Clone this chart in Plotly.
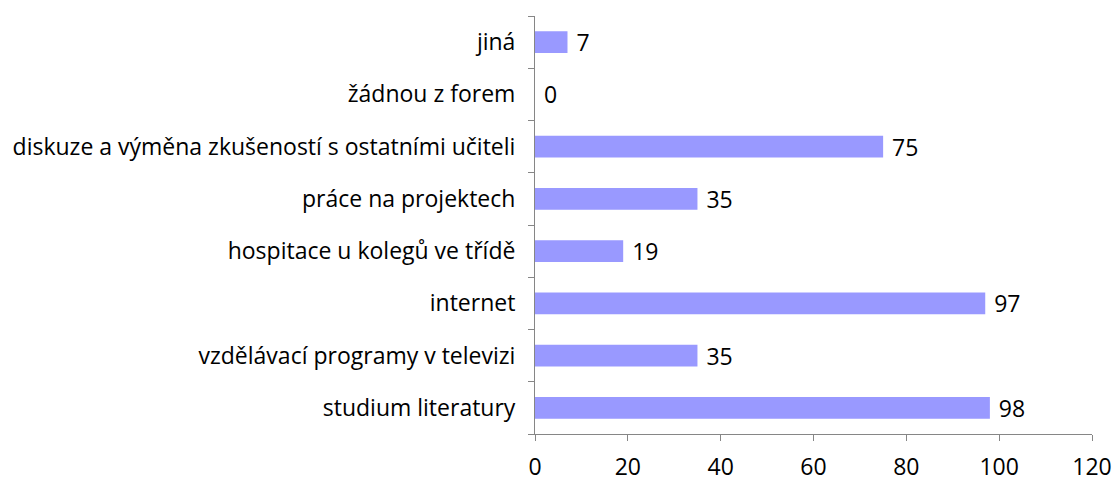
import plotly.graph_objects as go

categories = ["studium literatury", "vzdělávací programy v televizi", "internet",
              "hospitace u kolegů ve třídě", "práce na projektech",
              "diskuze a výměna zkušeností s ostatními učiteli", "žádnou z forem", "jiná"]
values = [98, 35, 97, 19, 35, 75, 0, 7]
x_ticks = [0, 20, 40, 60, 80, 100, 120]

FONT = "'Open Sans', sans-serif"

fig = go.Figure(go.Bar(
    y=categories, x=values, orientation="h",
    marker=dict(color="#9999FF", line=dict(width=0)),
    text=[f" {v}" for v in values], textposition="outside",
    textfont=dict(size=23, color="#000000", family=FONT),
    constraintext="none",
    cliponaxis=False, width=0.415,
))

fig.update_layout(
    width=1115, height=487,
    margin=dict(l=535, r=23, t=16, b=53, pad=0),
    paper_bgcolor="white", plot_bgcolor="white",
    showlegend=False,
    font=dict(family=FONT, size=23, color="#000000"),
    xaxis=dict(range=[0, 120], tickvals=x_ticks, showgrid=False, zeroline=False,
               showline=True, linecolor="#868686", linewidth=1,
               ticks="outside", ticklen=6, tickcolor="#868686", automargin=False,
               tickfont=dict(size=23, family=FONT), ticklabelstandoff=6),
    yaxis=dict(categoryorder="array", categoryarray=categories, automargin=False,
               showgrid=False, zeroline=False, showline=True, linecolor="#868686",
               linewidth=1, ticks="outside", ticklen=6, tickcolor="#868686",
               tickson="boundaries", tickfont=dict(size=23, family=FONT),
               ticklabelstandoff=14),
    bargap=0.585,
)

fig.write_html(
    "out.html",
    config={"displayModeBar": False},
    post_script="document.body.style.margin='0';document.body.style.overflow='hidden';",
)
